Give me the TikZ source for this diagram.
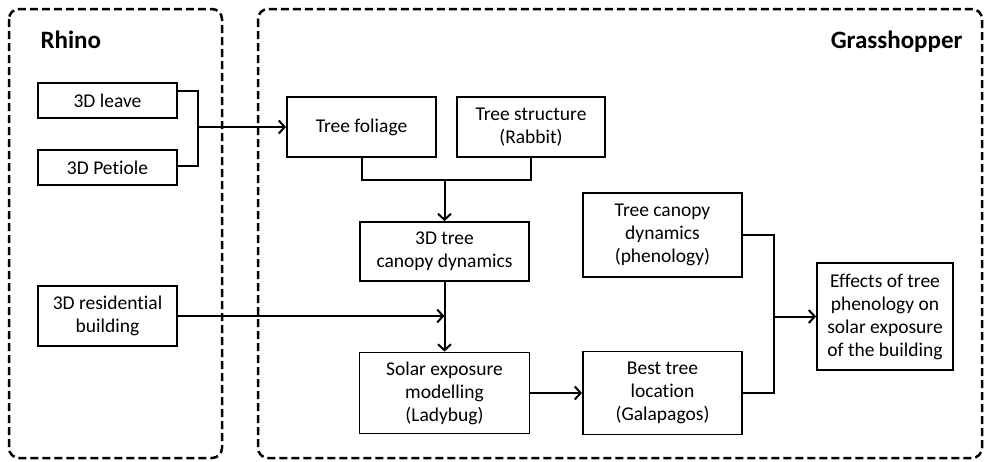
\documentclass[tikz,border=0pt]{standalone}
\usepackage{fontspec}
\setmainfont{Carlito}[Ligatures=NoCommon]
\usetikzlibrary{arrows.meta}

\begin{document}
\begin{tikzpicture}[x=1pt,y=-1pt,line join=miter,>={Straight Barb[length=6pt,width=13pt]},
	box/.style={draw,line width=1.8pt,align=center,inner sep=0pt,font=\fontsize{19.5}{23}\selectfont},
	panel/.style={draw,line width=2.5pt,dash pattern=on 8pt off 4pt,rounded corners=10pt},
	title/.style={font=\fontsize{25}{30}\selectfont\bfseries},
	link/.style={line width=2pt}]
	\useasboundingbox (0,0) rectangle (990,461);
	% the two panels
	\draw[panel] (9,9) rectangle (222,458);
	\draw[panel] (258,9) rectangle (982,458);
	\node[title,anchor=base west] (rhino) at (37,48) {Rhino};
	\node[title,anchor=base east] (gh) at (966,48) {Grasshopper};
	% Rhino side
	\node[box,minimum width=139pt,minimum height=35pt] (leave) at (107.5,100.5) {3D leave};
	\node[box,minimum width=139pt,minimum height=35pt] (petiole) at (107.5,167.5) {3D Petiole};
	\node[box,minimum width=139pt,minimum height=60pt] (resid) at (107.5,316) {3D residential\\building};
	% Grasshopper side
	\node[box,minimum width=149pt,minimum height=60pt] (foliage) at (361.5,127) {Tree foliage};
	\node[box,minimum width=148pt,minimum height=60pt] (struct) at (531,127) {Tree structure\\(Rabbit)};
	\node[box,minimum width=169pt,minimum height=59pt] (tree3d) at (444.5,251.5) {3D tree\\canopy dynamics};
	\node[box,minimum width=170pt,minimum height=81pt] (solar) at (444.5,393) {Solar exposure\\modelling\\(Ladybug)};
	\node[box,minimum width=159pt,minimum height=83pt] (best) at (662.5,393) {Best tree\\location\\(Galapagos)};
	\node[box,minimum width=159pt,minimum height=84pt] (canopy) at (662.5,235) {Tree canopy\\dynamics\\(phenology)};
	\node[box,minimum width=136pt,minimum height=107pt] (effects) at (885,316.5) {Effects of tree\\phenology on\\solar exposure\\of the building};
	% connectors
	\coordinate (lp) at (197,127);
	\coordinate (fs) at (444.5,179);
	\coordinate (cb) at (773,316.5);
	\draw[link] ([yshift=10pt]leave.east) -- ++(20,0) |- ([yshift=2pt]petiole.east);
	\draw[link,->] (lp) -- (foliage.west);
	\draw[link] (foliage.south) -- ++(0,22) -| (struct.south);
	\draw[link,->] (fs) -- (tree3d.north);
	\draw[link,->] (tree3d.south) -- (solar.north);
	\draw[link,->] (resid.east) -- (resid.east -| tree3d.south);
	\draw[link,->] (solar.east) -- (best.west);
	\draw[link] (canopy.east) -- ++(31,0) |- (best.east);
	\draw[link,->] (cb) -- (effects.west);
\end{tikzpicture}
\end{document}
